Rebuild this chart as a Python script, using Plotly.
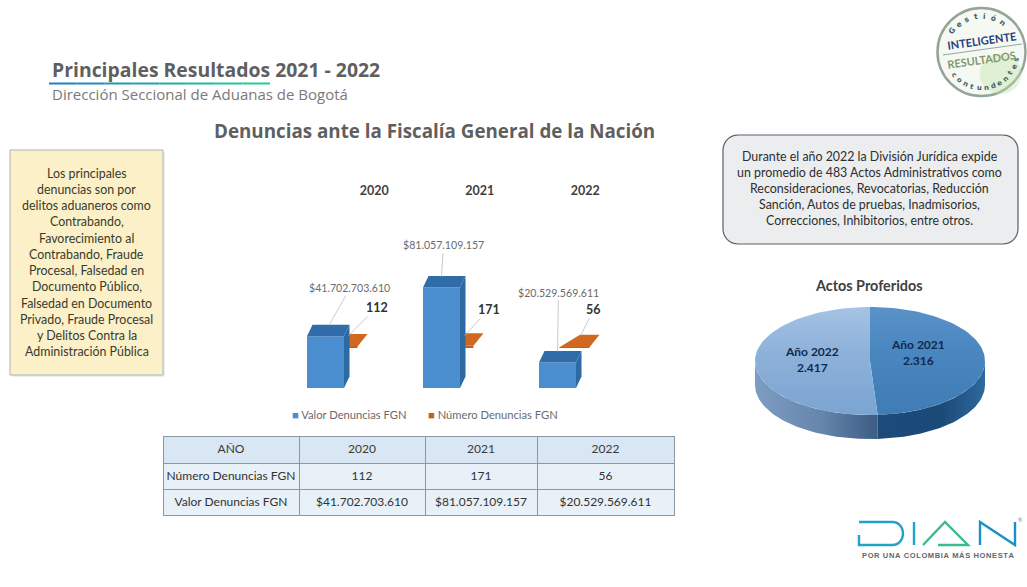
import numpy as np
import plotly.graph_objects as go

W, H = 1027, 587
FONT = "Lato"
HEAD = "Open Sans"

# ---------- data ----------
years = ["2020", "2021", "2022"]
valor_denuncias = [41702703610, 81057109157, 20529569611]
numero_denuncias = [112, 171, 56]
valor_labels = ["$41.702.703.610", "$81.057.109.157", "$20.529.569.611"]
actos_labels = ["Año 2021", "Año 2022"]
actos_values = [2316, 2417]
actos_text = ["2.316", "2.417"]
table_header = ["AÑO", "2020", "2021", "2022"]
table_row_names = ["Número Denuncias FGN", "Valor Denuncias FGN"]
left_lines = ["Los principales", "denuncias son por", "delitos aduaneros como", "Contrabando,",
              "Favorecimiento al", "Contrabando, Fraude", "Procesal, Falsedad en",
              "Documento Público,", "Falsedad en Documento", "Privado, Fraude Procesal",
              "y Delitos Contra la", "Administración Pública"]
right_lines = ["Durante el año 2022 la División Jurídica expide",
               "un promedio de 483 Actos Administrativos como",
               "Reconsideraciones, Revocatorias, Reducción",
               "Sanción, Autos de pruebas, Inadmisorios,",
               "Correcciones, Inhibitorios, entre otros."]


def px(x):
    return x / W


def py(y):
    return 1 - y / H


annotations, shapes = [], []


def text(x, y, s, size=11, color="#404040", bold=False, angle=0, anchor="center", family=FONT):
    annotations.append(dict(xref="paper", yref="paper", x=px(x), y=py(y), text=f"<b>{s}</b>" if bold else s,
                            showarrow=False, xanchor=anchor, yanchor="middle", textangle=angle,
                            font=dict(size=size, color=color, family=family)))


def path(d, fill=None, line=None, lw=1):
    shapes.append(dict(type="path", xref="paper", yref="paper", path=d, fillcolor=fill or "rgba(0,0,0,0)",
                       line=dict(color=line or "rgba(0,0,0,0)", width=lw)))


def P(pts, close=False):
    return "M" + " L".join(f"{px(a):.5f},{py(b):.5f}" for a, b in pts) + (" Z" if close else "")


def rect(x0, y0, x1, y1, fill, line=None, lw=1):
    shapes.append(dict(type="rect", xref="paper", yref="paper", x0=px(x0), x1=px(x1), y0=py(y0), y1=py(y1),
                       fillcolor=fill, line=dict(color=line or "rgba(0,0,0,0)", width=lw)))


def rounded(x0, y0, x1, y1, r, fill, line, lw):
    pts = []
    for cx, cy, a0 in [(x1 - r, y0 + r, -90), (x1 - r, y1 - r, 0), (x0 + r, y1 - r, 90), (x0 + r, y0 + r, 180)]:
        for a in np.radians(np.linspace(a0, a0 + 90, 9)):
            pts.append((cx + r * np.cos(a), cy + r * np.sin(a)))
    path(P(pts, True), fill, line, lw)


# ---------- heading ----------
text(50, 70, "Principales Resultados 2021 - 2022", 19.4, "#5f5f5f", True, anchor="left", family=HEAD)
seg = np.linspace(49, 270, 9)
c0, c1 = np.array([31, 130, 190]), np.array([40, 200, 150])
for i in range(8):
    c = c0 + (c1 - c0) * i / 7
    shapes.append(dict(type="line", xref="paper", yref="paper", x0=px(seg[i]), x1=px(seg[i + 1]), y0=py(83.5), y1=py(83.5),
                       line=dict(color=f"rgb({c[0]:.0f},{c[1]:.0f},{c[2]:.0f})", width=2)))
text(50, 94, "Dirección Seccional de Aduanas de Bogotá", 15, "#7a7a7a", anchor="left", family=HEAD)
text(434, 131, "Denuncias ante la Fiscalía General de la Nación", 18.8, "#5f5f5f", True, family=HEAD)

# ---------- left note ----------
rect(12, 152, 165, 377, "#eeeeee")
rect(10, 150, 163, 375, "#fbf0c8", "#a9b4bd", 1)
for i, s in enumerate(left_lines):
    text(86.5, 173 + i * 16.25, s, 12.4, "#3a3a2a")

# ---------- right note ----------
rounded(723, 135, 1018, 244, 15, "#ebedef", "#5a5f66", 1.2)
for i, s in enumerate(right_lines):
    text(869.5, 156.7 + i * 16, s, 12.4, "#2e2e2e")

# ---------- bar chart geometry (only styling constants) ----------
UNIT_PX = 116
X_C0 = 325.5
X0, X1, Y_TOP, Y_BASE = 285, 620, 198, 388
x_range = [(X0 - X_C0) / UNIT_PX, (X1 - X_C0) / UNIT_PX]
PX_PER_VAL = 100.6 / 81057109157
y2_max = (Y_BASE - Y_TOP) / PX_PER_VAL
y1_max = 15000
PX_PER_NUM = (Y_BASE - Y_TOP) / y1_max
SLAB_BASE = 40 / PX_PER_NUM
pos = [0, 1, 2]
BAR_W = 37 / UNIT_PX
DX, DY = 5.5 / UNIT_PX, 11.5 / PX_PER_VAL
SL_OFF, SL_W = 2 / UNIT_PX, 30 / UNIT_PX
SL_DX, SL_DY = 10 / UNIT_PX, 12.5 / PX_PER_NUM

BLUE, BLUE_TOP, BLUE_SIDE = "#4a8ecf", "#2f6ca8", "#2d6aa3"
ORANGE, ORANGE_TOP = "#c2611f", "#d0691f"

fig = go.Figure()

# orange series (behind the blue one): primary y
fig.add_trace(go.Bar(x=pos, y=numero_denuncias, base=[SLAB_BASE] * 3, offset=SL_OFF, width=SL_W,
                     marker=dict(color=ORANGE, line=dict(width=0)), name="Número Denuncias FGN",
                     showlegend=False, yaxis="y", xaxis="x"))
for p, n in zip(pos, numero_denuncias):
    b = SLAB_BASE + n
    fig.add_trace(go.Scatter(x=[p + SL_OFF, p + SL_OFF + SL_W, p + SL_OFF + SL_W + SL_DX, p + SL_OFF + SL_DX + 0.09, p + SL_OFF],
                             y=[b, b, b + SL_DY, b + SL_DY, b], mode="lines", fill="toself", fillcolor=ORANGE_TOP,
                             line=dict(width=0), hoverinfo="skip", showlegend=False, yaxis="y", xaxis="x"))

# blue series: secondary y overlaying
fig.add_trace(go.Bar(x=pos, y=valor_denuncias, width=BAR_W, marker=dict(color=BLUE, line=dict(width=0)),
                     name="Valor Denuncias FGN", showlegend=False, yaxis="y2", xaxis="x"))
for p, v in zip(pos, valor_denuncias):
    l, r = p - BAR_W / 2, p + BAR_W / 2
    fig.add_trace(go.Scatter(x=[l, r, r + DX, l + DX, l], y=[v, v, v + DY, v + DY, v], mode="lines", fill="toself",
                             fillcolor=BLUE_TOP, line=dict(width=0), hoverinfo="skip", showlegend=False,
                             yaxis="y2", xaxis="x"))
    fig.add_trace(go.Scatter(x=[r, r + DX, r + DX, r, r], y=[v, v + DY, DY, 0, v], mode="lines", fill="toself",
                             fillcolor=BLUE_SIDE, line=dict(width=0), hoverinfo="skip", showlegend=False,
                             yaxis="y2", xaxis="x"))

# data labels with leader lines, anchored to the data
val_off = [(21, -37), (2, -31), (1, -59)]
for p, v, t, (ax, ay), xs in zip(pos, valor_denuncias, valor_labels, val_off, [0.03, 0, 0.0]):
    annotations.append(dict(xref="x", yref="y2", x=p + xs, y=v + DY * 0.95, text=t, showarrow=True, arrowhead=0,
                            arrowwidth=0.8, arrowcolor="#b5bcc6", ax=ax, ay=ay, axref="pixel", ayref="pixel",
                            font=dict(size=10.6, color="#6b6b6b", family=FONT), standoff=0))
num_off = [(28, -28), (24, -26), (13, -26)]
for p, n, (ax, ay), xs in zip(pos, numero_denuncias, num_off, [0.2, 0.2, 0.2]):
    annotations.append(dict(xref="x", yref="y", x=p + xs, y=SLAB_BASE + SL_DY, text=f"<b>{n}</b>", showarrow=True,
                            arrowhead=0, arrowwidth=0.8, arrowcolor="#b5bcc6", ax=ax, ay=ay, axref="pixel", ayref="pixel",
                            font=dict(size=12.5, color="#333333", family=FONT), standoff=0))

# legend
annotations.append(dict(xref="paper", yref="paper", x=px(290), y=py(414), xanchor="left", yanchor="middle", showarrow=False,
                        text=f'<span style="color:{BLUE}">■</span> Valor Denuncias FGN',
                        font=dict(size=11.2, color="#6b6b6b", family=FONT)))
annotations.append(dict(xref="paper", yref="paper", x=px(426), y=py(414), xanchor="left", yanchor="middle", showarrow=False,
                        text=f'<span style="color:{ORANGE}">■</span> Número Denuncias FGN',
                        font=dict(size=11.2, color="#6b6b6b", family=FONT)))

# ---------- pie (tilted ellipse computed from the values) ----------
CX, CY, A, B, DEPTH = 870, 361, 115, 54, 24
PX0, PX1, PY0, PY1 = 745, 995, 295, 445
total = sum(actos_values)
split = 2 * np.pi * actos_values[0] / total   # clockwise from 12 o'clock


def ell(t, dy=0.0):
    return A * np.sin(t), B * np.cos(t) - dy


def slice_xy(t0, t1):
    t = np.linspace(t0, t1, 80)
    x, y = ell(t)
    return np.r_[0, x, 0], np.r_[0, y, 0]


def wall_xy(t0, t1):
    t = np.linspace(t0, t1, 60)
    x, y = ell(t)
    x2, y2 = ell(t[::-1], DEPTH)
    return np.r_[x, x2, x[0]], np.r_[y, y2, y[0]]


xa3 = dict(domain=[px(PX0), px(PX1)], range=[PX0 - CX, PX1 - CX], visible=False, fixedrange=True)
ya3 = dict(domain=[py(PY1), py(PY0)], range=[CY - PY1, CY - PY0], visible=False, fixedrange=True)


def pie_poly(xy, stops, kind="horizontal"):
    fig.add_trace(go.Scatter(x=xy[0], y=xy[1], mode="lines", fill="toself", line=dict(width=0),
                             fillgradient=dict(type=kind, colorscale=stops), hoverinfo="skip",
                             showlegend=False, xaxis="x3", yaxis="y3"))


pie_poly(wall_xy(np.pi / 2, split), [[0, "#1d4a78"], [0.6, "#1c4a78"], [1, "#2f689e"]])
pie_poly(wall_xy(split, 3 * np.pi / 2), [[0, "#7d9dc3"], [0.55, "#6685ab"], [1, "#3c5c84"]])
pie_poly(slice_xy(0, split), [[0, "#3f7bb5"], [0.6, "#4a86c0"], [1, "#5a92c8"]], "vertical")
pie_poly(slice_xy(split, 2 * np.pi), [[0, "#7ba4d2"], [0.6, "#8eb2da"], [1, "#a5c3e4"]], "vertical")

mids = [split / 2, (split + 2 * np.pi) / 2]
for m, name, t, dx, dy in zip(mids, actos_labels, actos_text, [-4, -6], [7, 3]):
    annotations.append(dict(xref="x3", yref="y3", x=A * 0.45 * np.sin(m) + dx, y=B * np.cos(m) + dy,
                            text=f"<b>{name}<br>{t}</b>", showarrow=False,
                            font=dict(size=12, color="#12294d", family=FONT)))
text(869, 285, "Actos Proferidos", 14.4, "#404040", True)

# ---------- table ----------
fill_head = "#d9e6f3"
fill_body = "#e8f0f8"
columns = [[s.replace(" ", "\u00a0") for s in table_row_names]]
for i in range(3):
    columns.append([str(numero_denuncias[i]), valor_labels[i]])
fig.add_trace(go.Table(
    domain=dict(x=[px(163), px(674)], y=[py(518), py(436)]),
    columnwidth=[136, 126, 112, 137],
    header=dict(values=table_header, height=27, align="center", fill_color=fill_head,
                line=dict(color="#8d97a3", width=1), font=dict(size=12, color="#3a3a3a", family=FONT)),
    cells=dict(values=columns, height=26, align="center", fill_color=fill_body,
               line=dict(color="#8d97a3", width=1), font=dict(size=12, color="#333333", family=FONT)),
))

# ---------- seal ----------
SX, SY, SR = 981.5, 52, 44
shapes.append(dict(type="circle", xref="paper", yref="paper", x0=px(SX - SR), x1=px(SX + SR), y0=py(SY + SR), y1=py(SY - SR),
                   fillcolor="#f6f9f3", line=dict(color="#93a596", width=2.5)))
shapes.append(dict(type="circle", xref="paper", yref="paper", x0=px(SX - 2), x1=px(SX + 40), y0=py(SY + 42), y1=py(SY + 2),
                   fillcolor="rgba(190,225,165,0.38)", line=dict(width=0)))
text(SX, 40, "INTELIGENTE", 11, "#27407f", True, angle=-8)
text(SX, 60, "RESULTADOS", 11, "#7f9a6a", True, angle=-8)
path(P([(943, 55), (1022, 44)]), None, "#90a8a0", 1)
for ch, a in zip("Gestión", np.linspace(-54, 35, 7)):
    r = 36
    text(SX + r * np.sin(np.radians(a)), SY - r * np.cos(np.radians(a)), ch, 7.5, "#3d5f5f", True, angle=a, family="DejaVu Sans")
for ch, a in zip("contundentes", np.linspace(-50, 77, 12)):
    r = 36
    text(SX + r * np.sin(np.radians(a)), SY + r * np.cos(np.radians(a)), ch, 7, "#3d5f5f", True, angle=-a, family="DejaVu Sans")

# ---------- DIAN logo ----------
D_BLUE, A_GREEN, N_BLUE = "#1fa3c9", "#3cb98f", "#1b90c6"
t = np.radians(np.linspace(-90, 90, 12))
d_arc = [(893 + 10 * np.cos(a), 533.5 + 11.5 * np.sin(a)) for a in t]
path(P([(859, 522)] + d_arc + [(859, 545), (859, 535)]), None, D_BLUE, 2.4)
path(P([(914, 522), (914, 545)]), None, D_BLUE, 2.4)
path(P([(923, 545), (945, 522), (968, 545), (938, 545)]), None, A_GREEN, 2.4)
path(P([(980, 545), (980, 522), (1015, 545), (1015, 522)]), None, N_BLUE, 2.4)
text(1020, 520, "®", 5, "#5a8aa0")
text(938, 555.5, "\u200a".join("POR UNA COLOMBIA MÁS HONESTA"), 7.5, "#666666", True, family="Liberation Sans")

fig.update_layout(
    width=W, height=H, margin=dict(l=0, r=0, t=0, b=0), autosize=False,
    paper_bgcolor="#ffffff", plot_bgcolor="rgba(0,0,0,0)", showlegend=False, barmode="overlay",
    font=dict(family=FONT),
    xaxis=dict(domain=[px(X0), px(X1)], range=x_range, side="top", anchor="y", tickvals=[0.42, 1.33, 2.24], ticktext=[f"<b>{y}</b>" for y in years],
               tickfont=dict(size=12.5, color="#404040", family=FONT), showgrid=False, zeroline=False,
               showline=False, ticks="", fixedrange=True),
    yaxis=dict(domain=[py(Y_BASE), py(Y_TOP)], range=[0, y1_max], visible=False, fixedrange=True),
    yaxis2=dict(domain=[py(Y_BASE), py(Y_TOP)], range=[0, y2_max], overlaying="y", visible=False, fixedrange=True),
    xaxis3=xa3, yaxis3=ya3,
    annotations=annotations, shapes=shapes,
)

fig.write_html("out.html", config=dict(displayModeBar=False), post_script="document.body.style.margin='0';")
